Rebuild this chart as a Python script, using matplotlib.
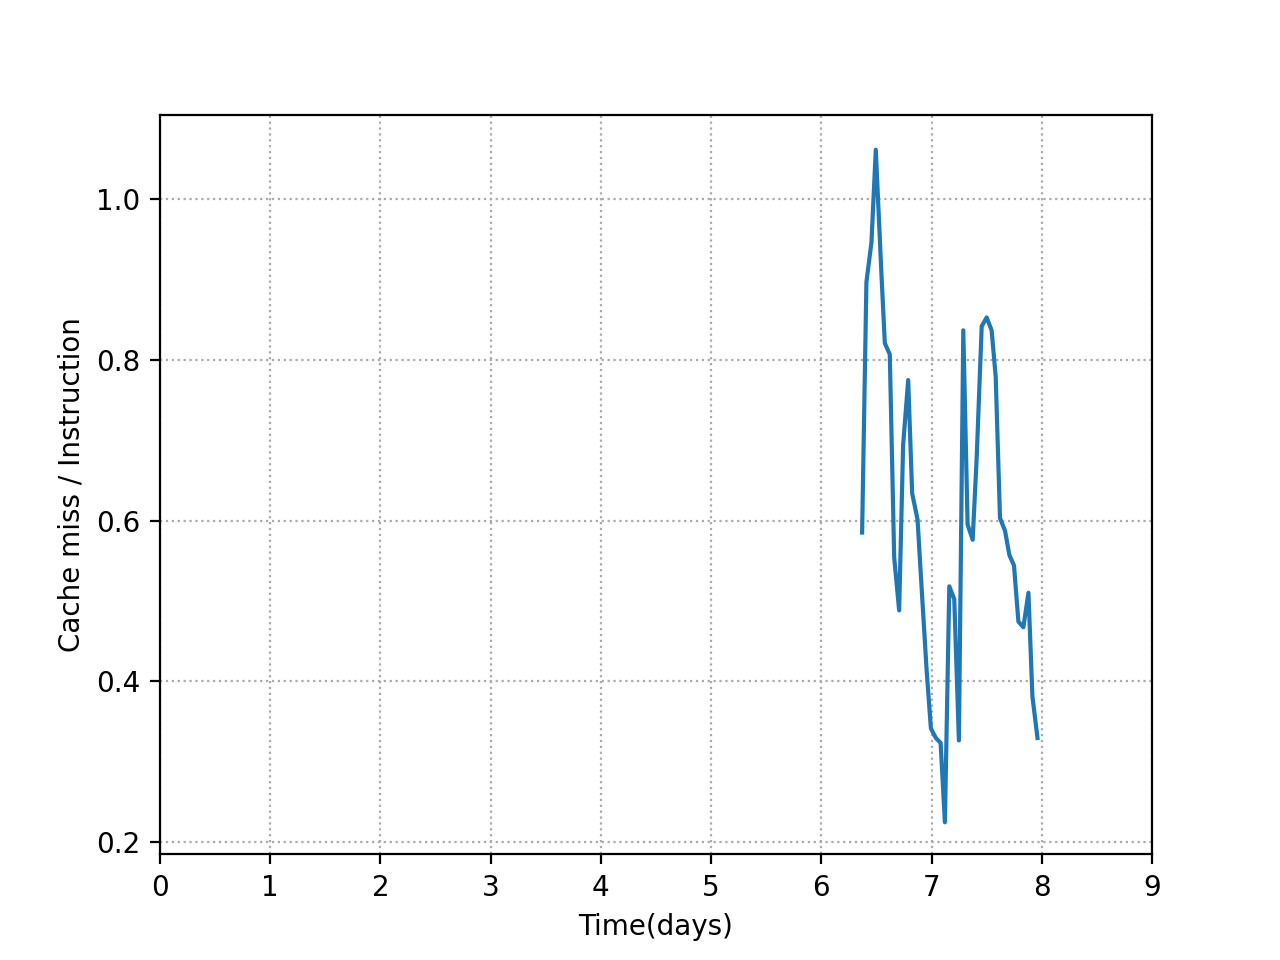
import matplotlib
matplotlib.use('Agg')
import matplotlib.pyplot as plt

time_days = [6.370, 6.409, 6.455, 6.494, 6.545, 6.576, 6.621, 6.661, 6.706, 6.742,
             6.788, 6.824, 6.873, 6.909, 6.955, 6.994, 7.039, 7.082, 7.121, 7.161,
             7.206, 7.248, 7.288, 7.327, 7.373, 7.409, 7.455, 7.500, 7.545, 7.582,
             7.621, 7.667, 7.706, 7.748, 7.788, 7.833, 7.879, 7.915, 7.961]
miss_per_instr = [0.585, 0.897, 0.947, 1.062, 0.908, 0.821, 0.807, 0.554, 0.488, 0.694,
                  0.775, 0.634, 0.601, 0.518, 0.414, 0.341, 0.329, 0.323, 0.224, 0.518,
                  0.502, 0.326, 0.837, 0.595, 0.576, 0.677, 0.842, 0.853, 0.837, 0.779,
                  0.603, 0.587, 0.557, 0.544, 0.474, 0.467, 0.510, 0.381, 0.329]

fig, ax = plt.subplots(figsize=(6.4, 4.8), dpi=200)
ax.plot(time_days, miss_per_instr, color='#1f77b4')
ax.set_xlim(0, 9)
ax.set_ylim(0.184, 1.105)
ax.set_xticks(range(10))
ax.set_yticks([0.2, 0.4, 0.6, 0.8, 1.0])
ax.grid(True, linestyle=':', color='#aaaaaa')
ax.set_xlabel('Time(days)')
ax.set_ylabel('Cache miss / Instruction')
fig.savefig('out.png')
